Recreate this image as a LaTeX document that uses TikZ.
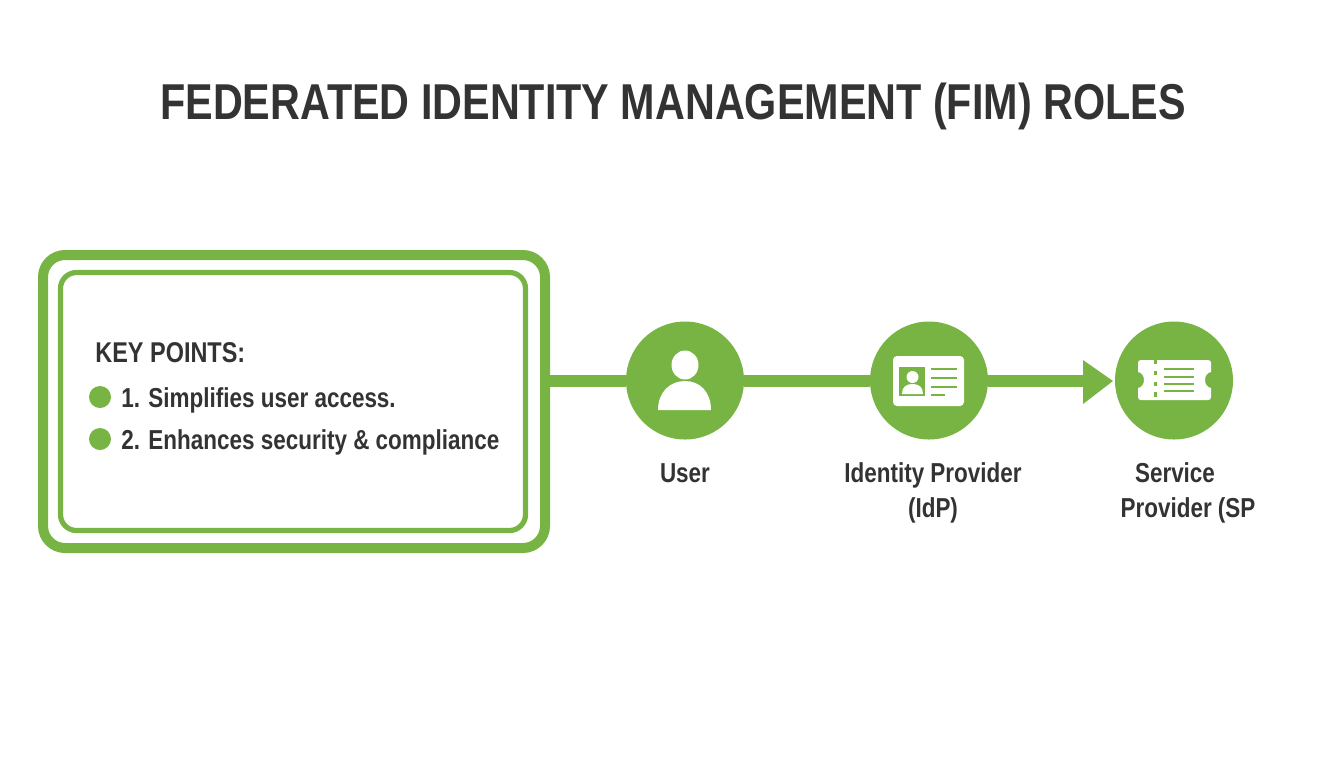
\documentclass[tikz,border=0pt]{standalone}
\usepackage{fontspec}
\setmainfont[FakeStretch=0.82]{Liberation Sans}
\usetikzlibrary{positioning}
\definecolor{leaf}{HTML}{78B443}
\definecolor{inkgray}{HTML}{333333}
\tikzset{
  rolecircle/.style={circle, fill=leaf, minimum size=59pt, inner sep=0pt},
  rolelabel/.style={align=center, text=inkgray, font=\fontsize{13.7}{17.5}\selectfont\bfseries},
  pointtext/.style={anchor=west, text=inkgray, inner sep=0pt, font=\fontsize{13.7}{17}\selectfont\bfseries},
  pointdot/.style={circle, fill=leaf, minimum size=11pt, inner sep=0pt},
  flowline/.style={draw=leaf, line width=6pt},
  iconline/.style={draw=leaf, line width=1.2pt}
}
\begin{document}
\begin{tikzpicture}[x=0.5pt, y=-0.5pt]
    \useasboundingbox (0,0) rectangle (1344,768);
    \node[text=inkgray, font=\fontsize{25.2}{30}\selectfont\bfseries] (title) at (673,106) {FEDERATED IDENTITY MANAGEMENT (FIM) ROLES};
    % boxes
    \draw[leaf, line width=5pt, rounded corners=11pt] (43,255) rectangle (545,548);
    \draw[leaf, line width=2.6pt, rounded corners=8pt] (60.5,272.5) rectangle (525.5,530.5);
    \coordinate (boxedge) at (550,380.5);
    \node[pointtext, font=\fontsize{14.3}{17}\selectfont\bfseries] (keys) at (95,353) {KEY POINTS:};
    \node[pointdot] (dotA) at (100,397) {};
    \node[pointdot] (dotB) at (100,439) {};
    \node[pointtext] (pointA) at (121,400) {1. Simplifies user access.};
    \node[pointtext] (pointB) at (121,442) {2. Enhances security \& compliance};
    % roles
    \node[rolecircle] (user) at (685,380.5) {};
    \node[rolecircle] (idp) at (929,380.5) {};
    \node[rolecircle] (sp) at (1174,380.5) {};
    \coordinate (tip) at (1113,381);
    \coordinate (tipbase) at (1085,380.5);
    \draw[flowline] (boxedge) -- (user);
    \draw[flowline] (user) -- (idp);
    \draw[flowline] (idp) -- (tipbase);
    \fill[leaf] (1083,360) -- (tip) -- (1083,404) -- cycle;
    % user icon
    \fill[white] (685,365) ellipse (13.5 and 14.5);
    \fill[white] (658,410) .. controls (658,392) and (670,381) .. (685,381) .. controls (700,381) and (711,392) .. (711,410) -- cycle;
    % card icon
    \fill[white, rounded corners=2pt] (893,356) rectangle (964,406);
    \fill[leaf] (899,367) rectangle (925,396);
    \fill[white] (912.5,377) circle (6);
    \fill[white] (902,394) .. controls (902,387) and (906,384) .. (912.5,384) .. controls (919,384) and (923,387) .. (923,394) -- cycle;
    \foreach\y/\e in {369/957,378/957,387/957,395/945}{
      \draw[iconline] (931,\y) -- (\e,\y);
    }
    % ticket icon
    \fill[white] (1141,360) -- (1208,360) .. controls (1210,360) and (1211,361) .. (1211,363) -- (1211,372)
      .. controls (1203,373) and (1203,387) .. (1211,388) -- (1211,397) .. controls (1211,399) and (1210,400) .. (1208,400)
      -- (1141,400) .. controls (1139,400) and (1138,399) .. (1138,397) -- (1138,388)
      .. controls (1146,387) and (1146,373) .. (1138,372) -- (1138,363) .. controls (1138,361) and (1139,360) .. (1141,360) -- cycle;
    \draw[leaf, line width=1.5pt, dash pattern=on 2.2pt off 3.2pt] (1155.5,360) -- (1155.5,400);
    \foreach\y in {369,377,384,391}{
      \draw[iconline] (1164,\y) -- (1194,\y);
    }
    % labels
    \node[rolelabel] (userlabel) at (685,473) {User};
    \node[rolelabel] (idplabel) at (933,493) {Identity Provider\\(IdP)};
    \node[rolelabel] (splabel) at (1188,493) {\hspace*{-13pt}Service\\Provider (SP};
  \end{tikzpicture}
\end{document}
